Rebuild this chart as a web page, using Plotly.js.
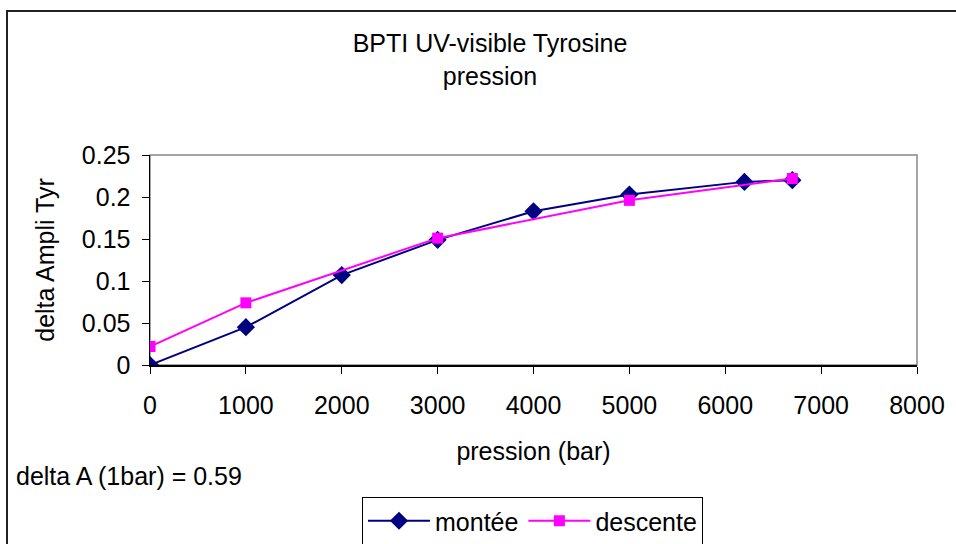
<!DOCTYPE html>
<html>
<head>
<meta charset="utf-8">
<script src="https://cdn.plot.ly/plotly-3.0.1.min.js"></script>
<style>html,body{margin:0;padding:0;background:#fff;}#chart{width:956px;height:544px;}</style>
</head>
<body>
<div id="chart"></div>
<script>
const xMontee = [0, 1000, 2000, 3000, 4000, 5000, 6200, 6700];
const yMontee = [0, 0.045, 0.107, 0.149, 0.183, 0.203, 0.218, 0.220];
const xDescente = [0, 1000, 3000, 5000, 6700];
const yDescente = [0.022, 0.074, 0.151, 0.196, 0.222];
const xTicks = [0, 1000, 2000, 3000, 4000, 5000, 6000, 7000, 8000];
const yTicks = [0, 0.05, 0.1, 0.15, 0.2, 0.25];
const yTickText = ['0', '0.05', '0.1', '0.15', '0.2', '0.25'];

const FONT = 'Liberation Sans, Arial, sans-serif';
const fs = 25;

const traces = [
  {x: xMontee, y: yMontee, name: 'montée', type: 'scatter', mode: 'lines+markers',
   line: {color: '#000080', width: 2}, marker: {symbol: 'diamond', size: 14, color: '#000080'}},
  {x: xDescente, y: yDescente, name: 'descente', type: 'scatter', mode: 'lines+markers',
   line: {color: '#FF00FF', width: 2}, marker: {symbol: 'square', size: 11, color: '#FF00FF'}}
];

const layout = {
  width: 956, height: 544,
  margin: {l: 150, r: 39, t: 155, b: 179, autoexpand: false},
  paper_bgcolor: '#fff', plot_bgcolor: '#fff',
  font: {family: FONT, size: fs, color: '#000'},
  title: {text: 'BPTI UV-visible Tyrosine<br>pression', x: 490/956, xanchor: 'center', xref: 'container',
          y: 1 - 52/544, yanchor: 'top', yref: 'container', font: {family: FONT, size: fs, color: '#000'}},
  xaxis: {range: [0, 8000], tickvals: xTicks, ticks: 'outside', ticklen: 7, tickcolor: '#000',
          showgrid: false, zeroline: false, showline: true, linecolor: '#000', linewidth: 1.5,
          ticklabelstandoff: 10, tickfont: {family: FONT, size: fs},
          title: {text: 'pression (bar)', standoff: 25, font: {family: FONT, size: fs}}},
  yaxis: {range: [0, 0.25], tickvals: yTicks, ticktext: yTickText, ticks: 'outside', ticklen: 7, tickcolor: '#000',
          showgrid: false, zeroline: false, showline: true, linecolor: '#000', linewidth: 1.5,
          ticklabelstandoff: 6, tickfont: {family: FONT, size: fs},
          title: {text: 'delta Ampli Tyr', standoff: 20, font: {family: FONT, size: fs}}},
  showlegend: true,
  legend: {orientation: 'h', x: (362-150)/767, xanchor: 'left', y: (365-497)/210, yanchor: 'top',
           bordercolor: '#000', borderwidth: 1, bgcolor: '#fff', font: {family: FONT, size: fs},
           itemwidth: 62, tracegroupgap: 0},
  shapes: [
    {type: 'rect', xref: 'paper', yref: 'paper', x0: 0, x1: 1, y0: 0, y1: 1,
     line: {color: '#888', width: 1.5}, layer: 'below'},
    {type: 'rect', xref: 'paper', yref: 'paper', x0: (7-150)/767, x1: 1.2, y0: -1, y1: (365-11)/210,
     line: {color: '#222', width: 2}, layer: 'below'}
  ],
  annotations: [
    {text: 'delta A (1bar) = 0.59', xref: 'paper', yref: 'paper', x: (14-150)/767, y: (365-476)/210,
     xanchor: 'left', yanchor: 'middle', showarrow: false, font: {family: FONT, size: fs, color: '#000'}}
  ]
};

Plotly.newPlot('chart', traces, layout, {displayModeBar: false, staticPlot: true});
</script>
</body>
</html>
